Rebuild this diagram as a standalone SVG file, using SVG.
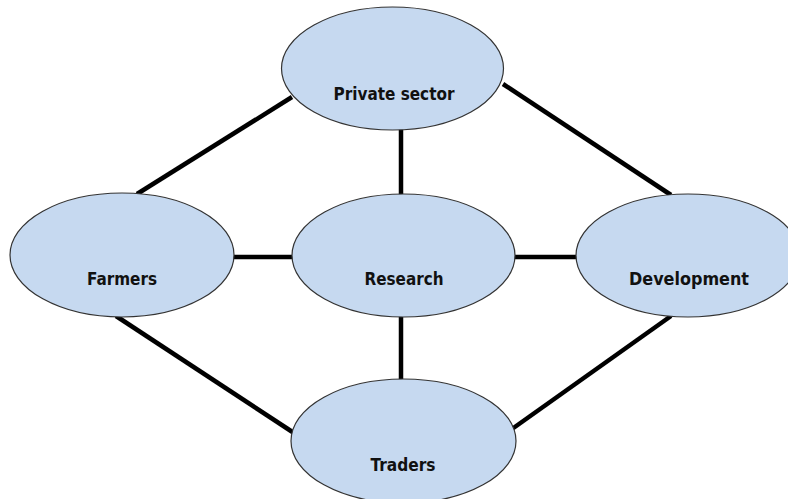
<svg xmlns="http://www.w3.org/2000/svg" width="788" height="499" viewBox="0 0 788 499">
<style>
.node{fill:#c6d9f0;stroke:#333;stroke-width:1.2}
.lbl{font-family:"DejaVu Sans Condensed","DejaVu Sans",sans-serif;font-weight:bold;font-size:18px;fill:#111;text-anchor:middle}
.edge{stroke:#000;stroke-width:4.5;fill:none}
</style>
<rect width="788" height="499" fill="#fff"/>
<g id="connectors">
<line class="edge" x1="137" y1="194" x2="292" y2="97"/>
<line class="edge" x1="503" y1="84" x2="671" y2="195"/>
<line class="edge" x1="401" y1="128" x2="401" y2="196"/>
<line class="edge" x1="232" y1="257" x2="294" y2="257"/>
<line class="edge" x1="513" y1="257" x2="578" y2="257"/>
<line class="edge" x1="401" y1="315" x2="401" y2="381"/>
<line class="edge" x1="116" y1="316" x2="294" y2="433"/>
<line class="edge" x1="671" y1="316" x2="512" y2="429"/>
</g>
<g id="private-sector">
<ellipse class="node" cx="392.5" cy="68.5" rx="111" ry="61.5"/>
<text class="lbl" x="394" y="100" textLength="121" lengthAdjust="spacingAndGlyphs">Private sector</text>
</g>
<g id="farmers">
<ellipse class="node" cx="122" cy="255" rx="112" ry="62"/>
<text class="lbl" x="122" y="285" textLength="70" lengthAdjust="spacingAndGlyphs">Farmers</text>
</g>
<g id="research">
<ellipse class="node" cx="403.5" cy="255.5" rx="111.5" ry="61.5"/>
<text class="lbl" x="404" y="285" textLength="79" lengthAdjust="spacingAndGlyphs">Research</text>
</g>
<g id="development">
<ellipse class="node" cx="688" cy="255.5" rx="112" ry="61.5"/>
<text class="lbl" x="689" y="285" textLength="120" lengthAdjust="spacingAndGlyphs">Development</text>
</g>
<g id="traders">
<ellipse class="node" cx="403.5" cy="441" rx="112.5" ry="62"/>
<text class="lbl" x="403" y="471" textLength="65" lengthAdjust="spacingAndGlyphs">Traders</text>
</g>
</svg>
